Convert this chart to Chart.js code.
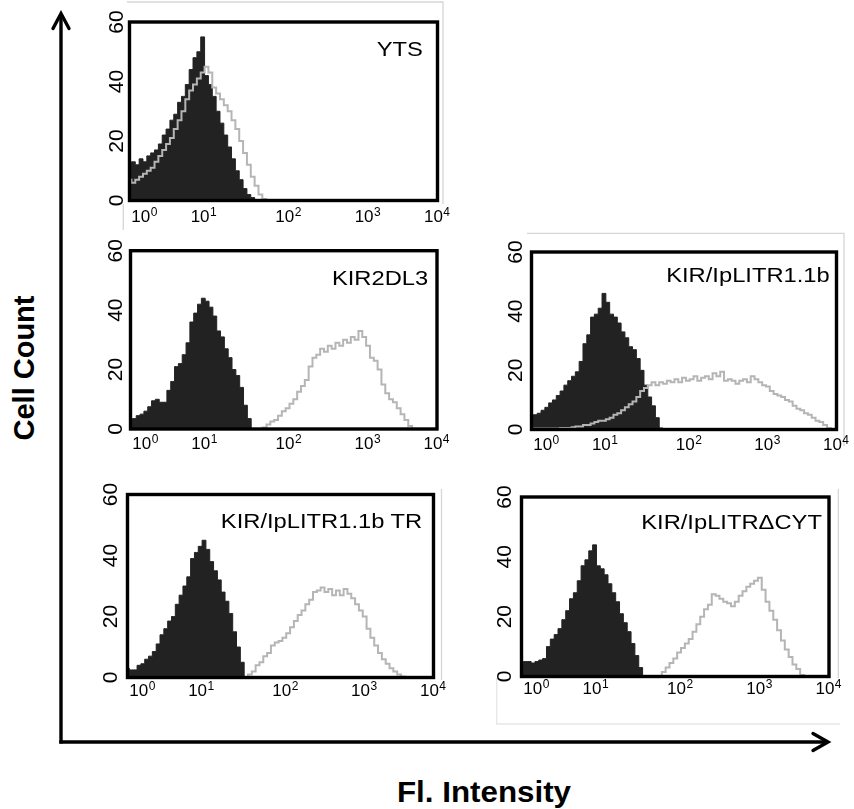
<!DOCTYPE html>
<html>
<head>
<meta charset="utf-8">
<script src="https://cdn.jsdelivr.net/npm/chart.js@4/dist/chart.umd.min.js"></script>
<style>
html,body{margin:0;padding:0;background:#fff;}
body{width:854px;height:809px;position:relative;overflow:hidden;font-family:"Liberation Sans",Arial,Helvetica,sans-serif;color:#000;}
canvas{position:absolute;}
.lbl{position:absolute;white-space:nowrap;line-height:1;}
.ptitle{font-size:21px;transform-origin:100% 50%;transform:scaleX(1.13);}
.axt{font-weight:bold;}
</style>
</head>
<body>
<svg width="854" height="809" style="position:absolute;left:0;top:0">
  <g stroke="#d6d6d6" stroke-width="1.3" fill="none">
    <polyline points="127,2 443,2 443,204"/>
    <line x1="123.3" y1="204" x2="123.3" y2="230"/>
    <polyline points="527,233.3 844,233.3 844,446"/>
    <line x1="441.5" y1="489" x2="441.5" y2="680"/>
    <line x1="838.3" y1="489" x2="838.3" y2="678"/>
    <polyline points="496.7,678 496.7,724 840,724" stroke="#e6e6e6"/>
  </g>
  <g stroke="#000" stroke-width="3.4" fill="none">
    <line x1="61" y1="743.6" x2="61" y2="15"/>
    <line x1="59.3" y1="742" x2="826" y2="742"/>
    <polyline points="53,28.5 61,13.5 69,28.5" stroke-linecap="round"/>
    <polyline points="813,733.5 828,742 813,750.5" stroke-linecap="round"/>
  </g>
</svg>
<div class="lbl axt" id="ylab" style="font-size:29px;left:24px;top:368px;transform:translate(-50%,-50%) rotate(-90deg)">Cell Count</div>
<div class="lbl axt" id="xlab" style="font-size:29px;left:484px;top:792px;transform:translate(-50%,-50%) scaleX(1.08)">Fl. Intensity</div>
<script>
// Fluorescence channel positions, in decades (log10 of intensity)
const decades = [0,0.05,0.1,0.15,0.2,0.25,0.3,0.35,0.4,0.45,
  0.5,0.55,0.6,0.65,0.7,0.75,0.8,0.85,0.9,0.95,
  1,1.05,1.1,1.15,1.2,1.25,1.3,1.35,1.4,1.45,
  1.5,1.55,1.6,1.65,1.7,1.75,1.8,1.85,1.9,1.95,
  2,2.05,2.1,2.15,2.2,2.25,2.3,2.35,2.4,2.45,
  2.5,2.55,2.6,2.65,2.7,2.75,2.8,2.85,2.9,2.95,
  3,3.05,3.1,3.15,3.2,3.25,3.3,3.35,3.4,3.45,
  3.5,3.55,3.6,3.65,3.7,3.75,3.8,3.85,3.9,3.95,
  4];

// YTS
const ytsFilled = [12,13,12,14,13,15,16,17,19,22,
  24,27,29,33,35,39,44,48,50,55,
  42,39,35,30,26,22,18,14,10,7,
  4,2,1,0.3,0,0,0,0,0,0,
  0,0,0,0,0,0,0,0,0,0,
  0,0,0,0,0,0,0,0,0,0,
  0,0,0,0,0,0,0,0,0,0,
  0,0,0,0,0,0,0,0,0,0,
  0];
const ytsOpen = [7,6,7,8,9,10,11,13,15,17,
  19,21,24,27,30,34,37,39,41,43,
  45,43,38,36,34,32,30,27,24,20,
  16,12,8,5,2,0.5,0,0,0,0,
  0,0,0,0,0,0,0,0,0,0,
  0,0,0,0,0,0,0,0,0,0,
  0,0,0,0,0,0,0,0,0,0,
  0,0,0,0,0,0,0,0,0,0,
  0];

// KIR2DL3
const kirFilled = [2,3.5,4.5,5,6,7.5,9.5,10,9,9,
  13,16,21,22,25,29,36,39,42,44,
  43,41,38,33,31,27,24,20,18,14,
  8,3.5,0,0,0,0,0,0,0,0,
  0,0,0,0,0,0,0,0,0,0,
  0,0,0,0,0,0,0,0,0,0,
  0,0,0,0,0,0,0,0,0,0,
  0,0,0,0,0,0,0,0,0,0,
  0];
const kirOpen = [0,0,0,0,0,0,0,0,0,0,
  0,0,0,0,0,0,0,0,0,0,
  0,0,0,0,0,0,0,0,0,0,
  0,0,0,0,0,0.5,1.5,2.5,3,4.5,
  6,7,8.5,10,12.5,14.5,16.5,21,24,25,
  27,26,28,27,29,28,30,29,31,30,
  33,31,28,24,23,20,15,12,10,9,
  7,5,3,1,0,0,0,0,0,0,
  0];

// KIR/IpLITR1.1b
const lirFilled = [5,5,5.5,6.5,7.5,9,10,11.5,13,15,
  16.5,18,19.5,23,29,32,38,39,41,46,
  43,39,38,36,33,31,28,27,24,20,
  15,11,8,4,0.5,0,0,0,0,0,
  0,0,0,0,0,0,0,0,0,0,
  0,0,0,0,0,0,0,0,0,0,
  0,0,0,0,0,0,0,0,0,0,
  0,0,0,0,0,0,0,0,0,0,
  0];
const lirOpen = [0,0.3,0.3,0.3,0.3,0.3,0.3,0.3,0.5,0.5,
  0.5,0.8,1,1,1.5,1.5,2,2.5,3,3,
  3.5,4,5,5.5,6.5,7.5,8.5,9.5,11,13,
  14,15,16,15,16,15.5,16.5,16,17,16,
  17.5,16.5,17,18,16.5,17.5,18,17,19,18,
  19.5,16.5,17,16.5,15.5,16.5,17,16,18,17,
  16,15,14.5,13,12,11.5,11,10,9.5,8,
  7,6.5,5.5,5,4,3,2.5,1.5,0.5,0,
  0];

// KIR/IpLITR1.1b TR
const trFilled = [3,2.5,2.5,4,4.5,6,7,8.5,11,14,
  16,18.5,20,24,27,30,33,39,41,43,
  45,42,38,35,32,28,25,21,15,10,
  5,0,0,0,0,0,0,0,0,0,
  0,0,0,0,0,0,0,0,0,0,
  0,0,0,0,0,0,0,0,0,0,
  0,0,0,0,0,0,0,0,0,0,
  0,0,0,0,0,0,0,0,0,0,
  0];
const trOpen = [0,0,0,0,0,0,0,0,0,0,
  0,0,0,0,0,0,0,0,0,0,
  0,0,0,0,0,0,0,0,0,0,
  0,0,1,2,4,5,7,8,10.5,11.5,
  12,13,14.5,16.5,18.5,20.5,22,24,25.5,28,
  28.5,29.5,28,29,27,28.5,27,29,27.5,26,
  24,22,20,16,13,10.5,8,6,4.5,3,
  2,1,0.3,0,0,0,0,0,0,0,
  0];

// KIR/IpLITR delta CYT
const cytFilled = [4,5,5,4.5,5,5.5,6,10,12.5,14,
  16,19,22,26,28,32,37,39,42,44,
  37,36,34,31,28,25,21,18,15,11,
  7,3,0,0,0,0,0,0,0,0,
  0,0,0,0,0,0,0,0,0,0,
  0,0,0,0,0,0,0,0,0,0,
  0,0,0,0,0,0,0,0,0,0,
  0,0,0,0,0,0,0,0,0,0,
  0];
const cytOpen = [0,0,0,0,0,0,0,0,0,0,
  0,0,0,0,0,0,0,0,0,0,
  0,0,0,0,0,0,0,0,0,0,
  0,0,0,0,0,0,0,1.5,3,4.5,
  6,8,9.5,11,12.5,15,17.5,20,22.5,24,
  27.5,27,26,25,24.5,23.5,25,27,28.5,30,
  31,32,33,29,25,22,19,15.5,12,9,
  6.5,4,2.5,0.5,0,0,0,0,0,0,
  0];

const panelNames = ['YTS', 'KIR2DL3', 'KIR/IpLITR1.1b', 'KIR/IpLITR1.1b TR', 'KIR/IpLITR\u0394CYT'];
const xTickBase = '10';
const xTickExponents = ['0', '1', '2', '3', '4'];
const xTickLabels = xTickExponents.map(e => xTickBase + e);
const yTickValues = [0, 20, 40, 60];

const series = [
  {filled: ytsFilled, open: ytsOpen},
  {filled: kirFilled, open: kirOpen},
  {filled: lirFilled, open: lirOpen},
  {filled: trFilled, open: trOpen},
  {filled: cytFilled, open: cytOpen}
];

// layout (page pixels) of each panel's plot box and decorations
const xTickAt = [0.19, 0.96, 2.06, 3.09, 3.99];
const layout = [
  {l:129.5, t:22,    r:437.5, b:200.5, yGap:12,   xBase:21.5, titleRight:423, titleBase:55.5},
  {l:130.5, t:250.7, r:437,   b:429,   yGap:14.5, xBase:20,   titleRight:428, titleBase:285},
  {l:531.5, t:252,   r:836.5, b:429.5, yGap:15.5, xBase:20,   titleRight:830, titleBase:282},
  {l:127.5, t:494.5, r:433.5, b:677.5, yGap:16,   xBase:18,   titleRight:422, titleBase:527.5},
  {l:521.5, t:497,   r:829,   b:676.5, yGap:16.5, xBase:17,   titleRight:822, titleBase:529}
];

const FONT = '"Liberation Sans", Arial, Helvetica, sans-serif';
const Y_FONT_SIZE = 21;

const framePlugin = {
  id: 'frame',
  afterDatasetsDraw(chart) {
    const {ctx, chartArea: a} = chart;
    ctx.save();
    ctx.strokeStyle = '#000';
    ctx.lineWidth = 3.4;
    ctx.strokeRect(a.left, a.top, a.right - a.left, a.bottom - a.top);
    ctx.restore();
  }
};

// draws x tick labels as "10" with a raised exponent, at the x scale's tick positions
const expTickPlugin = {
  id: 'expTicks',
  afterDraw(chart, args, opts) {
    const s = chart.scales.x, ctx = chart.ctx;
    ctx.save();
    ctx.fillStyle = '#000';
    ctx.textBaseline = 'alphabetic';
    ctx.textAlign = 'left';
    const y = chart.chartArea.bottom + opts.base;
    s.ticks.forEach((t, i) => {
      const x = s.getPixelForValue(t.value);
      ctx.font = '17px ' + FONT;
      const wb = ctx.measureText(xTickBase).width;
      ctx.font = '12px ' + FONT;
      const we = ctx.measureText(xTickExponents[i]).width;
      const x0 = x - (wb + we) / 2;
      ctx.font = '17px ' + FONT;
      ctx.fillText(xTickBase, x0, y);
      ctx.font = '12px ' + FONT;
      ctx.fillText(xTickExponents[i], x0 + wb + 0.5, y - 6);
    });
    ctx.restore();
  }
};

layout.forEach((p, k) => {
  const left = Math.floor(p.l - 50), top = Math.floor(p.t - 22);
  const right = Math.ceil(p.r + 24), bottom = Math.ceil(p.b + 40);
  const W = right - left, H = bottom - top;
  const cv = document.createElement('canvas');
  cv.width = W; cv.height = H;
  cv.style.left = left + 'px'; cv.style.top = top + 'px';
  cv.style.width = W + 'px'; cv.style.height = H + 'px';
  document.body.appendChild(cv);
  const yW = p.l - left, padTop = p.t - top, padRight = right - p.r, xH = bottom - p.b;
  new Chart(cv, {
    type: 'line',
    data: {
      datasets: [
        {
          data: decades.map((d, i) => ({x: d, y: series[k].open[i]})),
          borderColor: '#b5b5b5', borderWidth: 2, fill: false,
          stepped: 'middle', pointRadius: 0
        },
        {
          data: decades.map((d, i) => ({x: d, y: series[k].filled[i]})),
          borderColor: '#222222', backgroundColor: '#222222', borderWidth: 1,
          fill: 'origin', stepped: 'middle', pointRadius: 0
        }
      ]
    },
    options: {
      responsive: false, animation: false, devicePixelRatio: 1, events: [],
      layout: {padding: {left: 0, top: padTop, right: padRight, bottom: 0}},
      plugins: {legend: {display: false}, tooltip: {enabled: false}, expTicks: {base: p.xBase}},
      scales: {
        x: {
          type: 'linear', min: 0, max: 4,
          grid: {display: false, drawTicks: false}, border: {display: false},
          afterBuildTicks: s => { s.ticks = xTickAt.map(v => ({value: v})); },
          afterFit: s => { s.height = xH; },
          ticks: {
            display: false, autoSkip: false, maxRotation: 0, minRotation: 0,
            callback: (v, i) => xTickLabels[i]
          }
        },
        y: {
          type: 'linear', min: 0, max: 60,
          grid: {display: false, drawTicks: false}, border: {display: false},
          afterBuildTicks: s => { s.ticks = yTickValues.map(v => ({value: v})); },
          afterFit: s => { s.width = yW; },
          ticks: {
            minRotation: 90, maxRotation: 90, crossAlign: 'center',
            padding: p.yGap - 11.7, color: '#000', font: {family: FONT, size: Y_FONT_SIZE}
          }
        }
      }
    },
    plugins: [framePlugin, expTickPlugin]
  });
  const t = document.createElement('div');
  t.className = 'lbl ptitle';
  t.textContent = panelNames[k];
  t.style.right = (854 - p.titleRight) + 'px';
  t.style.top = (p.titleBase - 0.8465 * 21) + 'px';
  document.body.appendChild(t);
});
</script>
</body>
</html>
